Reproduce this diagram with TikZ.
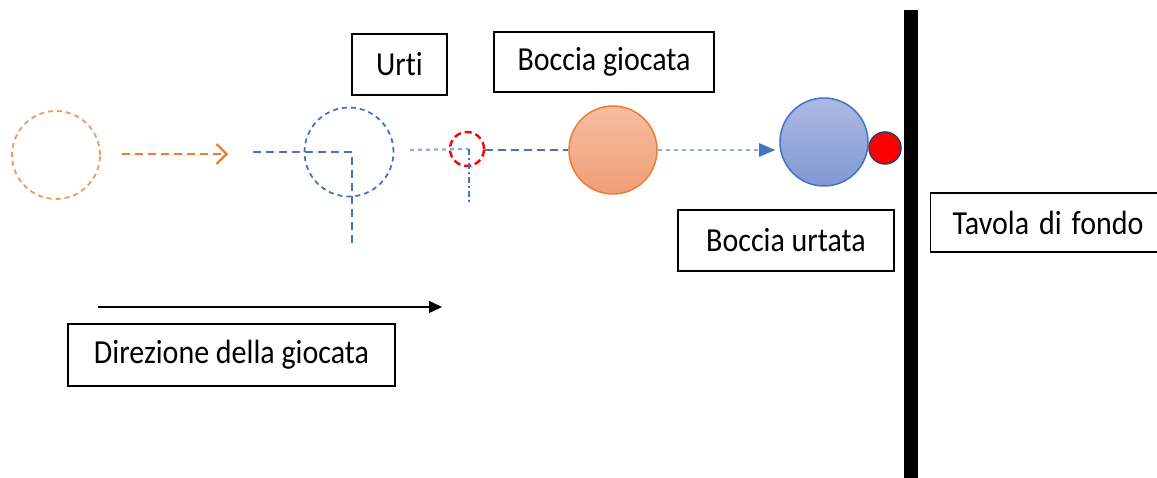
\documentclass[tikz,border=0pt]{standalone}
\usepackage{fontspec}
\setmainfont{Carlito}[Ligatures={NoCommon}]
\usetikzlibrary{arrows.meta}
\definecolor{orln}{RGB}{237,125,49}
\definecolor{ortop}{RGB}{245,190,160}
\definecolor{orbot}{RGB}{240,158,118}
\definecolor{blln}{RGB}{68,114,196}
\definecolor{bltop}{RGB}{172,186,226}
\definecolor{blbot}{RGB}{128,152,210}
\definecolor{bllt}{RGB}{143,170,220}
\definecolor{darkbl}{RGB}{47,60,110}
\newcommand{\vtxt}[1]{\scalebox{1}[1.12]{#1}}
\tikzset{
  lbl/.style={draw=black, line width=1.3pt, fill=white, font=\fontsize{30}{34}\selectfont, inner sep=0pt, anchor=center},
  bdash/.style={draw=blln, line width=2pt, dash pattern=on 8pt off 5pt},
  bdot/.style={draw=bllt, line width=2.2pt, dash pattern=on 4pt off 4pt},
}
\begin{document}
\begin{tikzpicture}[x=1pt,y=-1pt]
\useasboundingbox (0,0) rectangle (1157,478);
% wall
\fill[black] (904,10) rectangle (918,478);
% labels
\node[lbl, minimum width=95pt, minimum height=61pt] (urti) at (399.5,64.5) {\vtxt{Urti}};
\node[lbl, minimum width=220pt, minimum height=60pt] (bg) at (604,62) {\vtxt{Boccia giocata}};
\node[lbl, minimum width=216pt, minimum height=61pt] (bu) at (786,240.5) {\vtxt{Boccia urtata}};
\node[lbl, minimum width=240pt, minimum height=59pt, anchor=west, align=left, text width=240pt] (tav) at (930,222.5) {\hspace*{22pt}\vtxt{Tavola di fondo}};
\node[lbl, minimum width=327pt, minimum height=62pt] (dir) at (231.5,355) {\vtxt{Direzione della giocata}};
% direction arrow
\coordinate (d1) at (98,307);
\coordinate (d2) at (442,307);
\draw[black, line width=1.3pt, -{Triangle[length=13pt,width=12pt]}] (d1) -- (d2);
% start ghost ball
\node[circle, draw=orln!80, line width=1.8pt, dash pattern=on 5pt off 4pt, minimum size=88pt, inner sep=0pt] (g0) at (56,155) {};
\coordinate (a1) at (122,154);
\coordinate (a2) at (228,154);
\draw[draw=orln, line width=2.2pt, dash pattern=on 8pt off 5pt, -{Straight Barb[length=10pt,width=20pt,line width=2.2pt]}] (a1) -- (a2);
% blue ghost ball with corner lines
\node[circle, draw=blln, line width=1.8pt, dash pattern=on 5pt off 4pt, minimum size=89pt, inner sep=0pt] (g1) at (349,152) {};
\coordinate (c1) at (253,152);
\coordinate (c2) at (352,152);
\coordinate (c3) at (352,244);
\draw[bdash] (c1) -- (c2) -- (c3);
% small red impact ball
\node[circle, draw=red, line width=2.4pt, dash pattern=on 7pt off 4pt, minimum size=34pt, inner sep=0pt] (imp) at (467,149) {};
\coordinate (e1) at (410,150);
\coordinate (e2) at (469,149);
\coordinate (e3) at (469,202);
\draw[bdot] (e1) -- (e2);
\draw[draw=blln, line width=1.8pt, dash pattern=on 6pt off 3pt on 2pt off 3pt] (e2) -- (e3);
% played ball
\node[circle, draw=orln, line width=1.5pt, top color=ortop, bottom color=orbot, minimum size=88pt, inner sep=0pt] (played) at (613,150) {};
\draw[bdash] (imp.east) ++(0,1) -- (played.west);
% hit ball
\node[circle, draw=blln, line width=1.5pt, top color=bltop, bottom color=blbot, minimum size=88pt, inner sep=0pt] (hit) at (824,142) {};
\node[circle, draw=darkbl, line width=1.5pt, fill=red, minimum size=32pt, inner sep=0pt] (jack) at (885,148) {};
\draw[bdot, shorten >=4pt] (played.east) -- (played.east -| hit.west);
\fill[blln] (775,150) -- (759,143) -- (759,157) -- cycle;
\end{tikzpicture}
\end{document}
